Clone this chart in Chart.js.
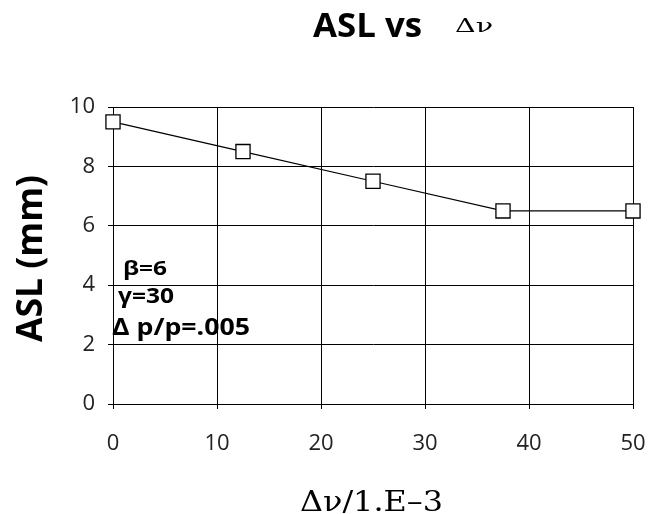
<!DOCTYPE html>
<html>
  <head>
    <meta charset="utf-8">
    <title>ASL vs dv</title>
    <script src="https://cdn.jsdelivr.net/npm/chart.js@4.4.0/dist/chart.umd.min.js"></script>
    <style>
      html, body { margin: 0; padding: 0; background: #fff; }
      #wrap { width: 657px; height: 514px; }
    </style>
  </head>
  <body>
    <div id="wrap"><canvas id="myCanvas" width="657" height="514"></canvas></div>
    <script>
// values
var dnu = [0, 12.5, 25, 37.5, 50];
var asl = [9.5, 8.5, 7.5, 6.5, 6.5];
var notes = ['β=6', 'γ=30', 'Δ p/p=.005'];

var sans = '"Open Sans", "DejaVu Sans", sans-serif';
var serif = '"DejaVu Serif", "Liberation Serif", serif';

// draws text squeezed/stretched to a given width
function fitText(ctx, txt, x, y, w) {
    var m = ctx.measureText(txt).width;
    ctx.save();
    ctx.translate(x, y);
    ctx.scale(w / m, 1);
    ctx.textAlign = 'left';
    ctx.fillText(txt, 0, 0);
    ctx.restore();
}

var textPlugin = {
    id: 'texts',
    afterDraw: function(chart) {
        var ctx = chart.ctx;
        ctx.save();
        ctx.fillStyle = '#000';
        ctx.textBaseline = 'alphabetic';

        // title
        ctx.font = 'bold 34px ' + sans;
        fitText(ctx, 'ASL vs', 313, 37, 109);
        ctx.font = '19px ' + serif;
        fitText(ctx, 'Δν', 455, 32, 38);

        // x title
        ctx.font = '27px ' + serif;
        fitText(ctx, 'Δν/1.E–3', 300, 511, 143);

        // y title
        ctx.save();
        ctx.translate(42, 342);
        ctx.rotate(-Math.PI / 2);
        ctx.font = 'bold 35px ' + sans;
        fitText(ctx, 'ASL (mm)', 0, 0, 167);
        ctx.restore();

        // notes inside the plot
        ctx.font = 'bold 20px ' + sans;
        fitText(ctx, notes[0], 123, 275, 44);
        ctx.font = 'bold 21px ' + sans;
        fitText(ctx, notes[1], 118, 303, 56);
        ctx.font = 'bold 23px ' + sans;
        fitText(ctx, notes[2], 112, 335, 138);

        ctx.restore();
    }
};

var ctx = document.getElementById('myCanvas').getContext('2d');

var myChart = new Chart(ctx, {
    type: 'line',
    data: {
        datasets: [{
            data: dnu.map(function(v, i) { return {x: v, y: asl[i]}; }),
            borderColor: '#000',
            borderWidth: 1.2,
            pointStyle: 'rect',
            pointRadius: 10,
            pointHoverRadius: 10,
            pointBackgroundColor: '#fff',
            pointBorderColor: '#000',
            pointBorderWidth: 1.3,
            tension: 0,
            clip: false
        }]
    },
    options: {
        responsive: false,
        animation: false,
        events: [],
        layout: {
            autoPadding: false,
            padding: {top: 107, right: 24, left: 0, bottom: 0}
        },
        plugins: {
            legend: {display: false},
            title: {display: false},
            tooltip: {enabled: false}
        },
        scales: {
            x: {
                type: 'linear',
                min: 0,
                max: 50,
                afterFit: function(s) {
                    s.height = 110;
                    s.paddingLeft = 0;
                    s.paddingRight = 0;
                },
                ticks: {
                    stepSize: 10,
                    color: '#222',
                    padding: 22,
                    font: {family: sans, size: 22}
                },
                grid: {color: '#000', lineWidth: 1, tickLength: 5},
                border: {color: '#000', width: 1}
            },
            y: {
                min: 0,
                max: 10,
                afterFit: function(s) {
                    s.width = 113;
                    s.paddingTop = 0;
                    s.paddingBottom = 0;
                },
                ticks: {
                    stepSize: 2,
                    color: '#222',
                    padding: 13,
                    font: {family: sans, size: 22}
                },
                grid: {color: '#000', lineWidth: 1, tickLength: 5},
                border: {color: '#000', width: 1}
            }
        }
    },
    plugins: [textPlugin]
});
    </script>
  </body>
</html>
